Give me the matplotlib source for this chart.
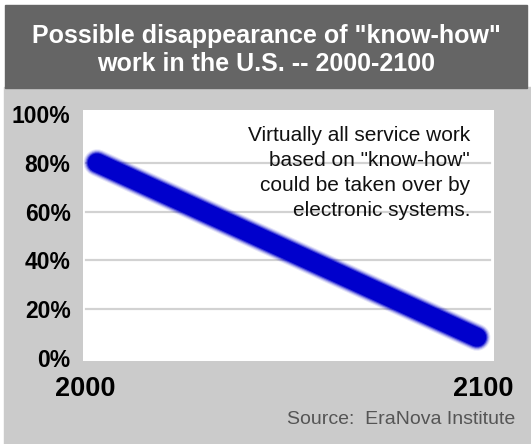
import matplotlib
matplotlib.use("Agg")
from matplotlib import pyplot as plt
from matplotlib.patches import Rectangle
from matplotlib import transforms as mtrans

# data
years = [2000, 2100]
share = [80, 8.5]
y_ticks = [0, 20, 40, 60, 80, 100]
y_labels = ["0%", "20%", "40%", "60%", "80%", "100%"]
grid_levels = [20, 40, 60, 80]

title = 'Possible disappearance of "know-how"\nwork in the U.S. -- 2000-2100'
note = 'Virtually all service work\nbased on "know-how"\ncould be taken over by\nelectronic systems.'
source = "Source:  EraNova Institute"

W, H = 531, 444
plt.rcParams["font.family"] = ["Liberation Sans", "DejaVu Sans"]

fig = plt.figure(figsize=(W / 100, H / 100), dpi=100)
fig.patch.set_facecolor("white")

def px_rect(x0, y0, x1, y1, color):
    # pixel coords from top-left
    fig.patches.append(Rectangle((x0 / W, 1 - y1 / H), (x1 - x0) / W, (y1 - y0) / H,
                                 transform=fig.transFigure, color=color, zorder=-5))

px_rect(4, 87, 531, 444, "#cbcbcb")
px_rect(5, 5, 527, 88, "#656565")

fig.text(266 / W, 1 - 50 / H, title, color="white", fontsize=18, fontweight="bold",
         ha="center", va="center", linespacing=1.2)

ax = fig.add_axes([83 / W, 1 - 361 / H, 411 / W, 251 / H])
ax.set_facecolor("white")
for s in ax.spines.values():
    s.set_visible(False)

for g in grid_levels:
    ax.axhline(g, xmin=0.007, xmax=0.99, color="#d2d2d2", lw=1.6, zorder=1)

# soft blurred blue stroke
for lw, a in [(19.5, 0.1), (18, 0.18), (16.5, 0.3), (15, 0.55), (13.5, 1.0)]:
    ax.plot(years, share, color="#0000cc", lw=lw, alpha=a, solid_capstyle="round", zorder=3)

ax.set_xlim(1996.3, 2104.5)
ax.set_ylim(-1.2, 101.6)

ax.set_yticks(y_ticks)
ax.set_yticklabels(y_labels, fontsize=16.5, fontweight="bold")
ax.set_xticks(years)
ax.set_xticklabels([str(y) for y in years], fontsize=19.5, fontweight="bold")
ax.tick_params(axis="y", length=0, pad=9)
ax.tick_params(axis="x", length=0, pad=11)

shifts = [-12, 6]
for lab, dx in zip(ax.get_xticklabels(), shifts):
    lab.set_transform(lab.get_transform() + mtrans.ScaledTranslation(dx / 100, 0, fig.dpi_scale_trans))

ax.text(0.942, 0.935, note, transform=ax.transAxes, ha="right", va="top",
        fontsize=15, color="#111111", linespacing=1.4, zorder=4)

fig.text(515 / W, 1 - 419 / H, source, ha="right", va="center", fontsize=14, color="#555555")

fig.savefig("out.png", dpi=100)
